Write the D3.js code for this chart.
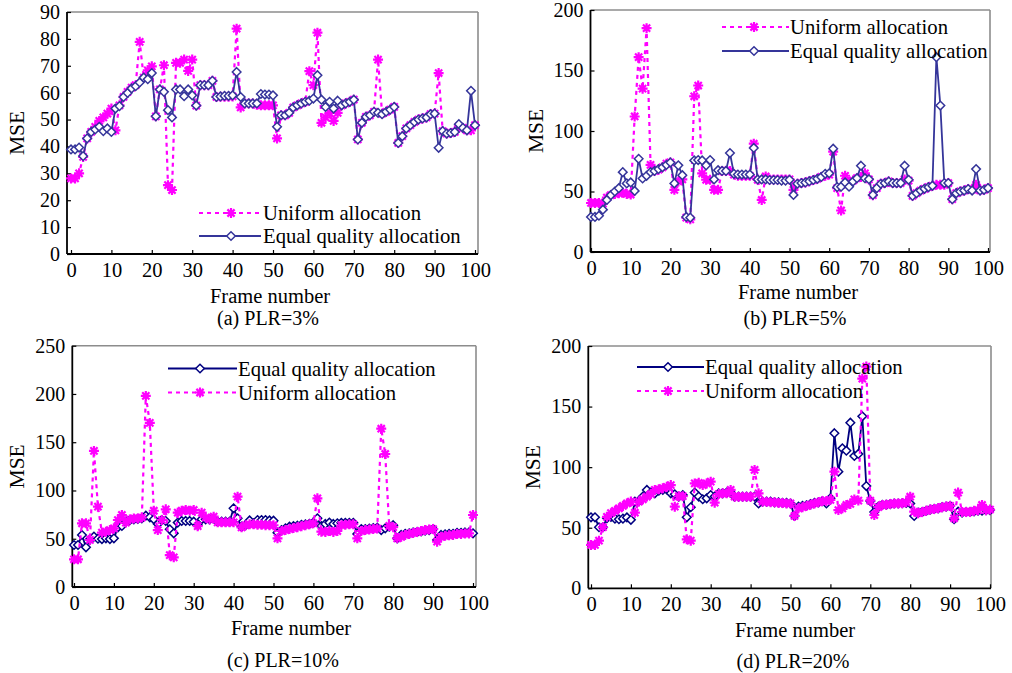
<!DOCTYPE html>
<html><head><meta charset="utf-8">
<script src="https://cdn.jsdelivr.net/npm/d3@7/dist/d3.min.js"></script>
<style>html,body{margin:0;padding:0;background:#fff;}svg{display:block;font-family:"Liberation Serif","Times New Roman",serif;}</style>
</head><body>
<svg id="chart" width="1012" height="673"></svg>
<script>
const frames = d3.range(0, 101);
const xTicks = [0,10,20,30,40,50,60,70,80,90,100];
const yTicksA = [0,10,20,30,40,50,60,70,80,90];
const yTicksB = [0,50,100,150,200];
const yTicksC = [0,50,100,150,200,250];
const yTicksD = [0,50,100,150,200];
const seriesNames = ["Uniform allocation", "Equal quality allocation"];
const captions = ["(a) PLR=3%", "(b) PLR=5%", "(c) PLR=10%", "(d) PLR=20%"];

const eqA = [38.9,38.9,39.6,36.4,43,45.4,46.3,47.3,45.7,46.7,
45.4,54.1,55,58.4,59.9,61.6,62.4,63.8,65.6,65,
67.3,51.2,61.2,60.3,53.5,50.8,61.2,61.2,58.7,61.2,
59,55.2,62.8,62.8,62.8,64.4,58.4,58.6,58.8,58.8,
59,67.7,58.4,56,56,56,56,59.5,59.3,59.3,
59,47.3,51.6,51.6,52.5,54.5,55.3,56,56.6,57,
57.8,66.5,57.4,54.7,56.6,54.1,57,55.3,56,56.6,
57.4,42.6,48.8,51,51.6,52.9,52.5,52,52.9,53.7,
54.7,41.3,43.8,46.7,47.9,49.1,50,50.4,50.8,52,
52.2,39.5,45.7,44.8,45,45.4,48.3,46.9,46,60.7,47.9];
const uniA = [28.1,28.1,30,36.1,43,45.4,47.3,49.5,50.8,52.2,
54.1,46,55.3,58.4,60.3,61.9,62.8,78.9,65.6,68.3,
69.8,51.2,61.2,70.2,25.6,23.8,71.1,71.1,72.3,68.1,
72.3,55.2,62.8,62.8,62.8,64.4,58.4,58.5,58.5,58.5,
58.6,83.8,54.5,56,56,56,55.5,55.3,55.3,55.3,
55.3,43,51.6,51.6,52.5,54.5,55.3,56,56.6,68,
62.8,82.3,48.8,50.8,52.5,49.5,52.5,55.3,56,56.6,
57.4,42.6,48.8,51,51.6,52.9,72.3,52.2,52.9,53.7,
54.7,41.3,43.8,46.7,47.9,49.1,50,50.4,50.8,52,
52.2,67.3,45.7,44.8,45,45.4,47.5,46.9,46,46,47.9];

const eqB = [29,29,30,35,43,47,50,52.7,66,56.7,
57.5,50.5,77,60.8,63,66,67,68.5,70,72,
74,56.7,71.6,63.5,29,28.4,75.7,76,75.7,71.6,
76,60,67.6,67,67,81.8,64.6,64,64,64,
64,86,60,60,60,59.5,59.5,59.5,59,59,
59.7,47.2,56.4,57,57.5,58.5,59.5,60.5,62,64.6,
65,85.4,53.6,54,57.5,54,58.3,61,71.3,61,
60.2,47.2,52.8,56.4,57,58.3,57,57,57,71.3,
59.7,46.4,48.6,50.8,52.2,53.6,54.7,161,121,57,
57,43.6,48.6,50,50.8,52,50.8,68.5,50.8,51.4,52.8];
const uniB = [40.5,40.5,40.5,40,45,47,48,48.5,49,48,
47.5,112,161,135,185,72,67,68,70,73,
74,51.4,58.3,60,28.4,27,128.7,137.6,65,59.7,
59.7,51.4,51.4,67,67,67,64,63,63,63,
63,89.5,59.7,43,62.4,60,60,60,60,60,
60,51.4,56.4,57,57.5,58.5,59.5,60.5,62,63,
64,83,52.8,34.3,63,58,59,61,62,65,
60,47,52.8,56.4,57,58.3,57,57,57,60,
59,46.4,48.6,50.8,52.2,53.6,54.7,55.5,55.5,55.5,
57,43.6,48.6,50,50.8,52,51.5,55.5,51,51.4,52.8];

const eqC = [43.5,43.5,53.9,41.1,49.4,52.2,50,49.7,50.4,49.7,
50.4,61.8,63.2,67.7,69.4,70.1,70.5,71.2,73.9,72.2,
70.1,65.3,69.4,68.4,59.8,55.6,66.7,68.4,68.4,68.4,
67.7,64.2,70.1,70.1,70.1,71,67.7,67.7,67.7,67.7,
81.5,71.2,62.5,64,69,66,69.4,69.4,69.4,69,
68.7,56.3,59,60.8,62.5,63,63.5,64.5,65,65.5,
66.7,71.2,63.2,65.3,66.7,65.3,66,66.5,66.5,66.5,
66.5,55,60,60,60.5,61,61.5,59,60.8,62.5,
64,50.4,53.9,55,55.5,56.5,57,57.5,58.5,59,
60,48.7,53.9,54.5,55,55,56,56,56.5,56.5,55.6];
const uniC = [28.7,28.7,66,66,48.7,141,83.2,56.3,57.3,59,
60.8,69.4,74.6,66.7,70,71,71,72,198,170,
79,59,69.4,80.5,33,30.7,77,79,79.8,79,
79.8,63,77,72,70,72.9,67,67,67,67,
67,93.6,61.8,64,65,65,64.5,64.5,64,64,
64,50.4,58,59,60,61,62,63,64,65,
66,91.9,57.3,57,58,57,58,64,64.5,65,
65,50.4,58,59,59.5,60,60.5,164,137.8,63.2,
62,50.4,52,54,55,56,57,58,59,59.5,
60,47,52,53,53.5,54,55,55,55.5,55.5,74.6];

const eqD = [58.6,58.6,50.4,50.4,58,59,57.5,57,57.5,58.5,
56.5,71.6,72,75.7,81.2,79,78.4,80.6,81.2,81.7,
78.4,77.6,75.7,77,58.6,66.9,79,75.7,73.5,74.3,
77,75.7,78.4,78.4,79,79,75.6,75.6,75.6,75.6,
75.6,75.6,70,71.5,71.5,71.5,71,71,70.5,70.5,
70,59.7,67.4,68,68.5,69.5,70.5,71,72,70,
74.3,128,96.3,115.5,113.6,136.7,109.2,110.9,142,84.4,
72,63,67.4,68.8,69,69.5,70,70,70.2,70.5,
70,59.7,62.5,63,64,65,65.5,66,67,67.5,
68,57,63.3,62.5,63,63,63.5,64,64,64.5,64.6];
const uniD = [35.8,35.8,39.3,50.4,59,62,64,66,68,70,
71.6,62.4,71.6,73.5,75.7,77.8,81.2,81.7,82.6,83.8,
85.2,67.4,76,76,40.4,39.3,86.6,87.1,85.2,86.6,
88,70.7,77.8,78.4,78.4,81.2,75.6,75.6,75.6,75.6,
75.6,97.7,78.4,71.5,71.5,71,71,70.5,70.5,70,
70,59.7,66,67,68,69,70,71,72,72,
73,96.3,64.6,66,68.8,69.6,73.4,72.4,173,183,
72.3,60.5,67,68.8,69,69.5,70,70,70.2,71,
75.6,63.3,62,63,64,65,65.5,66,67,67.5,
68,57.8,79,63,63,63,64,64.5,68.8,64.5,65];

const MAG = "#ff00ff";
const svg = d3.select("#chart");

const starPath = r => { const d = r*0.72; return `M${-r},0H${r}M0,${-r}V${r}M${-d},${-d}L${d},${d}M${-d},${d}L${d},${-d}`; };
const diamondPath = r => `M0,${-r}L${r},0L0,${r}L${-r},0Z`;

function drawPanel(p) {
  const g = svg.append("g");
  const x = d3.scaleLinear().domain([0,100]).range([p.x0, p.x100]);
  const y = d3.scaleLinear().domain([0, p.ymax]).range([p.bottom, p.top]);

  g.append("line").attr("x1", p.left).attr("x2", p.right).attr("y1", p.top).attr("y2", p.top)
    .attr("stroke", "#8c8c8c").attr("stroke-width", 1.6);
  g.append("line").attr("x1", p.right).attr("x2", p.right).attr("y1", p.top).attr("y2", p.bottom)
    .attr("stroke", "#8c8c8c").attr("stroke-width", 1.6);

  const xAxis = d3.axisBottom(x).tickValues(xTicks).tickSizeInner(-4).tickSizeOuter(0).tickPadding(8);
  const gx = g.append("g").attr("transform", `translate(0,${p.bottom})`).call(xAxis);
  gx.select(".domain").remove();
  gx.append("line").attr("x1", p.left).attr("x2", p.right).attr("stroke", "#000").attr("stroke-width", 1.8);
  gx.selectAll(".tick line").attr("stroke", "#000").attr("stroke-width", 1.2);
  gx.selectAll("text").attr("font-size", 20.5).attr("fill", "#000").attr("font-family", "Liberation Serif");

  const yAxis = d3.axisLeft(y).tickValues(p.yTicks).tickSizeInner(-4).tickSizeOuter(0).tickPadding(7);
  const gy = g.append("g").attr("transform", `translate(${p.left},0)`).call(yAxis);
  gy.select(".domain").remove();
  gy.append("line").attr("y1", p.top).attr("y2", p.bottom).attr("stroke", "#000").attr("stroke-width", 1.8);
  gy.selectAll(".tick line").attr("stroke", "#000").attr("stroke-width", 1.2);
  gy.selectAll("text").attr("font-size", 20).attr("fill", "#000").attr("font-family", "Liberation Serif");

  g.append("text").attr("x", p.frameX).attr("y", p.frameY).attr("text-anchor", "middle")
    .attr("font-size", 20.5).text("Frame number");
  g.append("text").attr("x", p.capX).attr("y", p.capY).attr("text-anchor", "middle")
    .attr("font-size", 20).text(p.caption);
  g.append("text").attr("transform", `translate(${p.mseX},${(p.top+p.bottom)/2}) rotate(-90)`)
    .attr("text-anchor", "middle").attr("font-size", 21.5).text("MSE");

  const line = d3.line().x((d,i) => x(frames[i])).y(d => y(d));

  function drawUni() {
    g.append("path").datum(p.uni).attr("d", line).attr("fill", "none").attr("stroke", MAG)
      .attr("stroke-width", 2.2).attr("stroke-dasharray", "4,4");
    g.append("g").selectAll("path").data(p.uni).join("path")
      .attr("transform", (d,i) => `translate(${x(frames[i])},${y(d)})`)
      .attr("d", starPath(5)).attr("stroke", MAG).attr("stroke-width", 2.2).attr("fill", "none");
  }
  function drawEq() {
    g.append("path").datum(p.eq).attr("d", line).attr("fill", "none").attr("stroke", p.eqColor)
      .attr("stroke-width", 1.8);
    g.append("g").selectAll("path").data(p.eq).join("path")
      .attr("transform", (d,i) => `translate(${x(frames[i])},${y(d)})`)
      .attr("d", diamondPath(4.3)).attr("stroke", p.eqColor).attr("stroke-width", 1.5).attr("fill", "#fff");
  }
  if (p.eqFirst) { drawEq(); drawUni(); } else { drawUni(); drawEq(); }

  p.legend.forEach(item => {
    const lg = g.append("g");
    const isUni = item.name === seriesNames[0];
    lg.append("line").attr("x1", item.lx1).attr("x2", item.lx2).attr("y1", item.ly).attr("y2", item.ly)
      .attr("stroke", isUni ? MAG : p.eqColor).attr("stroke-width", isUni ? 2.2 : 1.8)
      .attr("stroke-dasharray", isUni ? "4,4" : null);
    lg.append("path").attr("transform", `translate(${item.mx},${item.ly})`)
      .attr("d", isUni ? starPath(5) : diamondPath(4.3))
      .attr("stroke", isUni ? MAG : p.eqColor).attr("stroke-width", isUni ? 2.2 : 1.5)
      .attr("fill", isUni ? "none" : "#fff");
    lg.append("text").attr("x", item.tx).attr("y", item.ly + 7).attr("font-size", 20.7).text(item.name);
  });
}

drawPanel({left:67, right:478, top:12, bottom:254, x0:71, x100:475, ymax:90, yTicks:yTicksA,
  eq:eqA, uni:uniA, eqColor:"#35359a", eqFirst:false, caption:captions[0],
  frameX:270, frameY:303, capX:268, capY:325, mseX:24,
  legend:[{name:seriesNames[0], lx1:199, lx2:261, mx:231, ly:213, tx:263},
          {name:seriesNames[1], lx1:199, lx2:261, mx:231, ly:236, tx:263}]});
drawPanel({left:590.5, right:990, top:10, bottom:252, x0:591, x100:988, ymax:200, yTicks:yTicksB,
  eq:eqB, uni:uniB, eqColor:"#35359a", eqFirst:false, caption:captions[1],
  frameX:798, frameY:299, capX:795, capY:325, mseX:543,
  legend:[{name:seriesNames[0], lx1:722, lx2:789, mx:754, ly:27, tx:790},
          {name:seriesNames[1], lx1:722, lx2:789, mx:754, ly:51, tx:790}]});
drawPanel({left:72.3, right:476, top:345.7, bottom:587, x0:74, x100:473, ymax:250, yTicks:yTicksC,
  eq:eqC, uni:uniC, eqColor:"#000080", eqFirst:true, caption:captions[2],
  frameX:291, frameY:635, capX:283, capY:667, mseX:24,
  legend:[{name:seriesNames[1], lx1:168, lx2:237, mx:200, ly:368.5, tx:238},
          {name:seriesNames[0], lx1:168, lx2:237, mx:200, ly:392.5, tx:238}]});
drawPanel({left:588.3, right:991, top:346, bottom:588.3, x0:591, x100:990, ymax:200, yTicks:yTicksD,
  eq:eqD, uni:uniD, eqColor:"#000080", eqFirst:true, caption:captions[3],
  frameX:795, frameY:637, capX:793, capY:668, mseX:540,
  legend:[{name:seriesNames[1], lx1:637, lx2:704, mx:668, ly:367, tx:705},
          {name:seriesNames[0], lx1:637, lx2:704, mx:668, ly:391, tx:705}]});
</script>
</body></html>
